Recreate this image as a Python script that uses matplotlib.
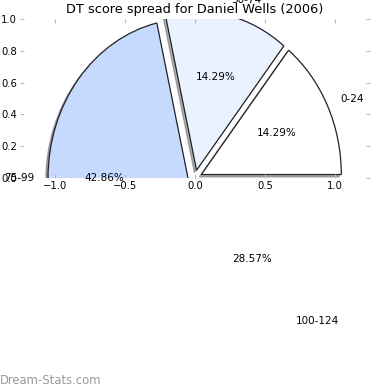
import matplotlib
matplotlib.use("Agg")
import matplotlib.pyplot as plt

# score buckets and counts
labels = ["0-24", "50-74", "75-99", "100-124"]
counts = [1, 1, 3, 2]
colors = ["#ffffff", "#eaf1ff", "#c6d9ff", "#a9c4fb"]
explode = [0.05, 0.05, 0.05, 0.05]

fig = plt.figure(figsize=(3.9, 3.9), dpi=100)
ax = fig.add_axes([20 / 390, 1 - 178 / 390, 350 / 390, 159 / 390])

wedges, texts, autotexts = ax.pie(
    counts, labels=labels, colors=colors, explode=explode,
    autopct="%.2f%%", startangle=0, frame=True,
    shadow=dict(ox=-0.011, oy=-0.011, shade=0.6),
    wedgeprops=dict(edgecolor="#222222", linewidth=0.9),
    textprops=dict(fontsize=7.5),
)
# wedges (and their shadows) are clipped to the axes box, labels are not
for p in ax.patches:
    p.set_clip_on(True)

ax.set_aspect("auto")
ax.set_xlim(-1.25, 1.25)
ax.set_ylim(0, 1.0)
ax.set_xticks([-1.0, -0.5, 0.0, 0.5, 1.0])
ax.set_yticks([0.0, 0.2, 0.4, 0.6, 0.8, 1.0])
for s in ax.spines.values():
    s.set_visible(False)
ax.tick_params(direction="in", length=3, color="#bbbbbb", labelsize=7.2,
               top=True, right=True, pad=2)

ax.set_title("DT score spread for Daniel Wells (2006)", fontsize=9.3, pad=4)
fig.text(0.0, 0.025, "Dream-Stats.com", fontsize=8.4, color="#999999",
         ha="left", va="center")

fig.savefig("out.png", dpi=100)
